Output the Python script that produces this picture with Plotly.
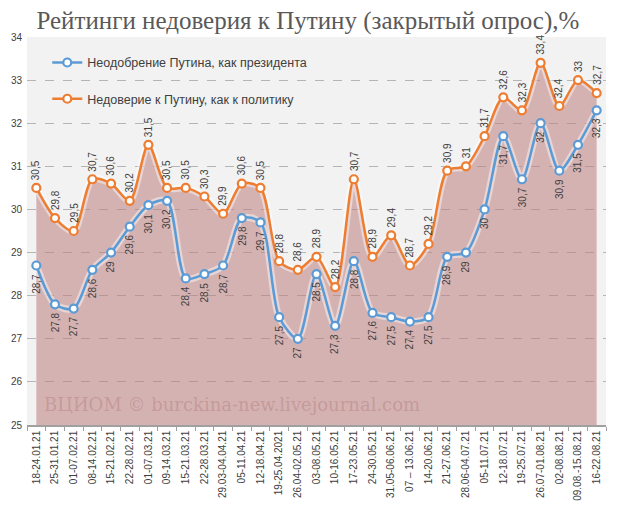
import plotly.graph_objects as go

# Категории (недели опроса)
weeks = ['18-24.01.21', '25-31.01.21', '01-07.02.21', '08-14.02.21', '15-21.02.21',
         '22-28.02.21', '01-07.03.21', '09-14.03.21', '15-21.03.21', '22-28.03.21',
         '29.03-04.04.21', '05-11.04.21', '12-18.04.21', '19-25.04.2021', '26.04-02.05.21',
         '03-08.05.21', '10-16.05.21', '17-23.05.21', '24-30.05.21', '31.05-06.06.21',
         '07 – 13.06.21', '14-20.06.21', '21-27.06.21', '28.06-04.07.21', '05-11.07.21',
         '12-18.07.21', '19-25.07.21', '26.07-01.08.21', '02-08.08.21', '09.08.-15.08.21',
         '16-22.08.21']

# Неодобрение Путина, как президента
neodobr = [28.7, 27.8, 27.7, 28.6, 29, 29.6, 30.1, 30.2, 28.4, 28.5,
           28.7, 29.8, 29.7, 27.5, 27, 28.5, 27.3, 28.8, 27.6, 27.5,
           27.4, 27.5, 28.9, 29, 30, 31.7, 30.7, 32, 30.9, 31.5, 32.3]

# Недоверие к Путину, как к политику
nedover = [30.5, 29.8, 29.5, 30.7, 30.6, 30.2, 31.5, 30.5, 30.5, 30.3,
           29.9, 30.6, 30.5, 28.8, 28.6, 28.9, 28.2, 30.7, 28.9, 29.4,
           28.7, 29.2, 30.9, 31, 31.7, 32.6, 32.3, 33.4, 32.4, 33, 32.7]

blau = '#5b9bd5'
orange = '#ed7d31'
txt = '#404040'


def fmt(v):
    return f'{v:g}'.replace('.', ',')


fig = go.Figure()

# Fläche unter der orangen Linie
fig.add_trace(go.Scatter(x=weeks, y=nedover, mode='none', fill='tozeroy',
                         fillcolor='rgba(190,125,125,0.55)', line_shape='spline',
                         line_smoothing=0.8, showlegend=False, hoverinfo='skip'))

# leichter Schein um die Linien
for ys in (nedover, neodobr):
    fig.add_trace(go.Scatter(x=weeks, y=ys, mode='lines', showlegend=False, hoverinfo='skip',
                             line=dict(color='rgba(255,255,255,0.45)', width=7,
                                       shape='spline', smoothing=0.8)))

fig.add_trace(go.Scatter(x=weeks, y=neodobr, mode='lines+markers',
                         name='Неодобрение Путина, как президента', legendgroup='a',
                         line=dict(color=blau, width=2.5, shape='spline', smoothing=0.8),
                         marker=dict(size=8, color='white', line=dict(color=blau, width=2.2))))
fig.add_trace(go.Scatter(x=weeks, y=nedover, mode='lines+markers',
                         name='Недоверие к Путину, как к политику', legendgroup='b',
                         line=dict(color=orange, width=2.5, shape='spline', smoothing=0.8),
                         marker=dict(size=8, color='white', line=dict(color=orange, width=2.2))))

# Datenbeschriftungen (senkrecht)
for w, v in zip(weeks, nedover):
    fig.add_annotation(x=w, y=v, text=fmt(v), textangle=-90, showarrow=False,
                       yanchor='bottom', yshift=6, font=dict(size=10, color=txt))
for w, v in zip(weeks, neodobr):
    fig.add_annotation(x=w, y=v, text=fmt(v), textangle=-90, showarrow=False,
                       yanchor='top', yshift=-6, font=dict(size=10, color=txt))

fig.add_annotation(text='ВЦИОМ © burckina-new.livejournal.com', xref='paper', yref='paper',
                   x=0.026, y=0.052, xanchor='left', yanchor='middle', showarrow=False,
                   font=dict(family='DejaVu Serif', size=18, color='rgba(175,125,125,0.45)'))

# Seite hat 8px Rand, daher etwas kleiner
fig.update_layout(
    width=612, height=500,
    margin=dict(l=19, r=14, t=29, b=83),
    paper_bgcolor='white', plot_bgcolor='#f2f2f2',
    font=dict(family='Liberation Sans', color=txt),
    title=dict(text='Рейтинги недоверия к Путину (закрытый опрос),%',
               x=0.49, xanchor='center', y=0.975, yanchor='middle', yref='container',
               font=dict(family='Liberation Serif', size=25, color='#595959')),
    legend=dict(x=0.035, y=0.972, xanchor='left', yanchor='top', bgcolor='rgba(0,0,0,0)',
                font=dict(size=12.5, color=txt), tracegroupgap=17, itemwidth=30),
    showlegend=True,
)

fig.update_xaxes(type='category', tickangle=-90, tickson='boundaries', ticks='outside',
                 ticklen=4, tickcolor='#a0a0a0', showline=True, linecolor='#a0a0a0',
                 linewidth=1.5, showgrid=False, tickfont=dict(size=10, color=txt),
                 range=[-0.5, 30.5], automargin=False)
fig.update_yaxes(range=[25, 34], dtick=1, showgrid=True, gridcolor='#b5b5b5',
                 griddash='dash', zeroline=False, showline=False, ticklabelstandoff=4,
                 automargin=False, tickfont=dict(size=10, color=txt))

fig.write_html('out.html')
